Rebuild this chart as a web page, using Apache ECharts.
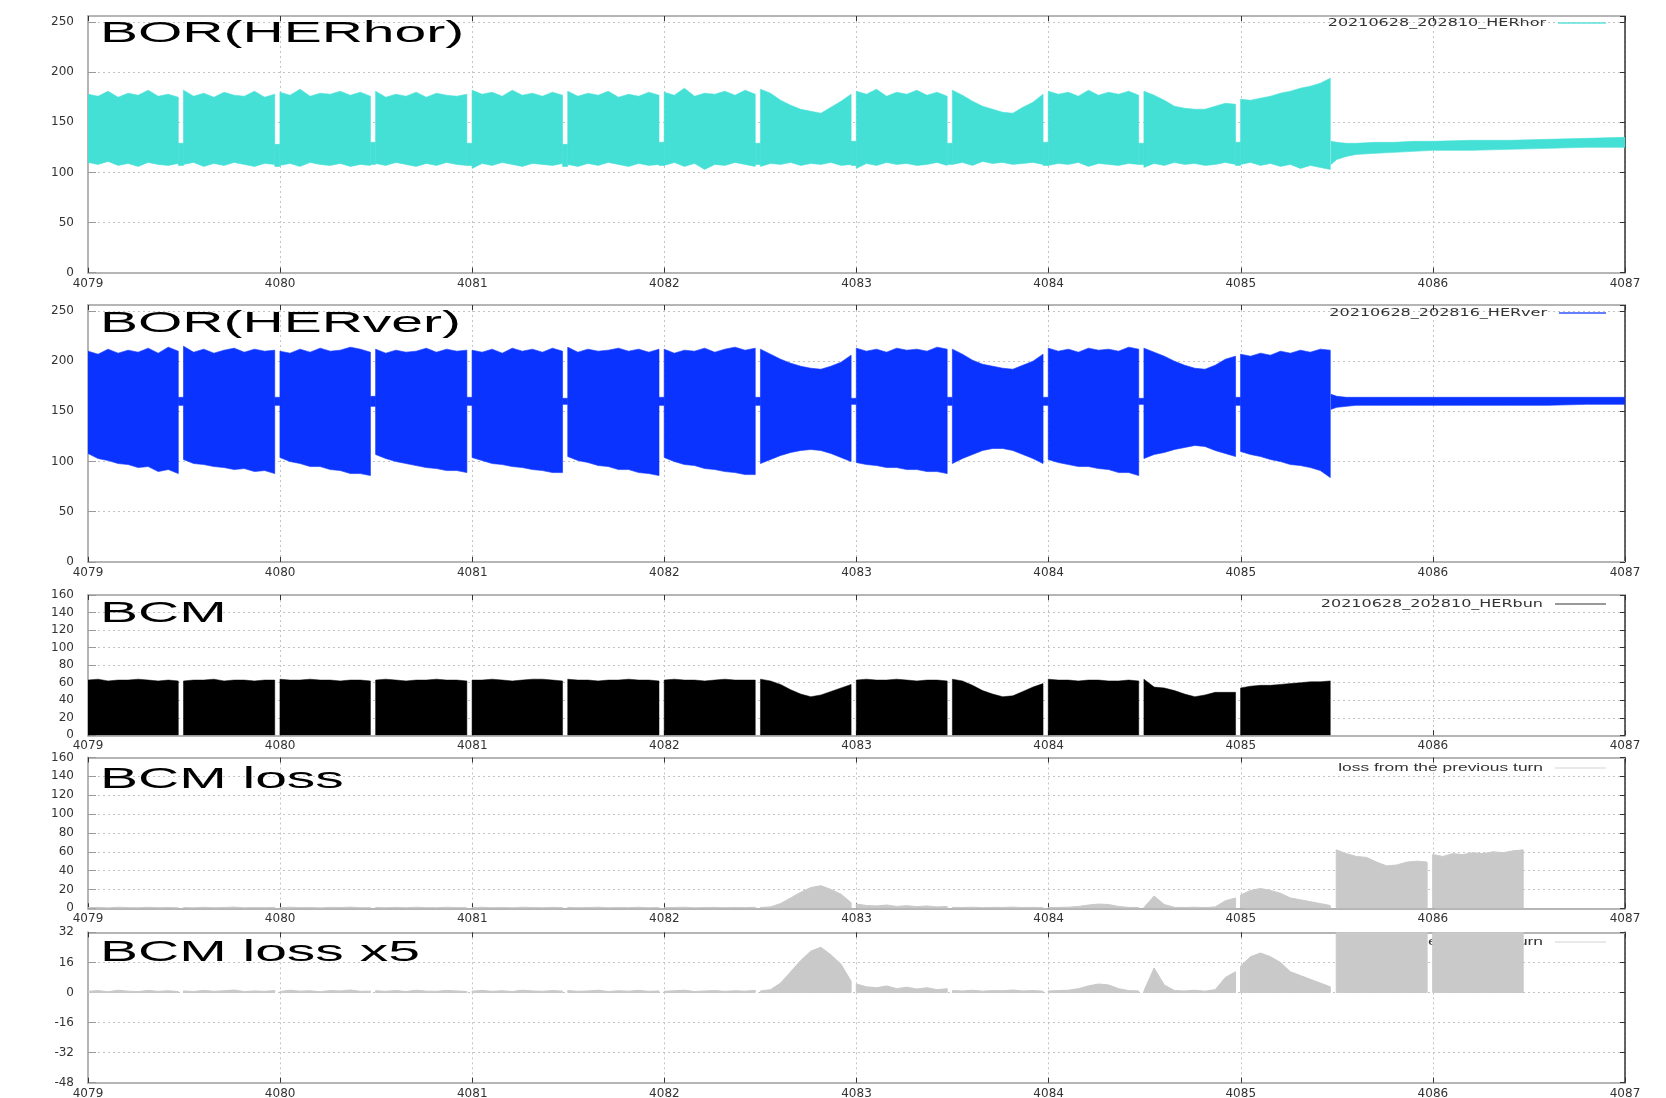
<!DOCTYPE html>
<html>
<head>
<meta charset="utf-8">
<script src="https://cdn.jsdelivr.net/npm/echarts@6/dist/echarts.min.js"></script>
<style>
html,body{margin:0;padding:0;background:#fff;}
#c{width:1666px;height:1098px;}
</style>
</head>
<body>
<div id="c"></div>
<script>
// ---------------- DATA ----------------
const xTickLabels = [4079, 4080, 4081, 4082, 4083, 4084, 4085, 4086, 4087];
const yTickLabels = [
  [0, 50, 100, 150, 200, 250],
  [0, 50, 100, 150, 200, 250],
  [0, 20, 40, 60, 80, 100, 120, 140, 160],
  [0, 20, 40, 60, 80, 100, 120, 140, 160],
  [-48, -32, -16, 0, 16, 32]
];
const yAxisTop = [256, 256, 160, 160, 32];

const panelTitles = ['BOR(HERhor)', 'BOR(HERver)', 'BCM', 'BCM loss', 'BCM loss x5'];
const legendNames = ['20210628_202810_HERhor', '20210628_202816_HERver', '20210628_202810_HERbun',
                     'loss from the previous turn', 'loss from the previous turn'];

// bunch-train start / end (turn number)
const trainStart = [4079.000, 4079.497, 4079.999, 4080.497, 4080.999, 4081.497, 4081.999, 4082.500,
                    4082.999, 4083.499, 4083.998, 4084.496, 4084.999, 4085.497, 4085.999];
const trainEnd   = [4079.470, 4079.972, 4080.470, 4080.972, 4081.470, 4081.972, 4082.473, 4082.972,
                    4083.472, 4083.971, 4084.469, 4084.973, 4085.466, 4085.970, 4086.470];

// BOR(HERhor): upper / lower envelope, 10 samples per train
const horHigh = [
  [178, 176, 181, 175, 179, 177, 182, 176, 178, 175],
  [182, 176, 179, 175, 180, 177, 176, 181, 175, 178],
  [180, 177, 183, 176, 179, 178, 181, 177, 180, 176],
  [181, 175, 178, 176, 180, 175, 179, 177, 176, 178],
  [182, 178, 180, 176, 182, 177, 179, 176, 180, 177],
  [181, 176, 179, 177, 181, 175, 178, 176, 180, 177],
  [180, 177, 184, 176, 179, 178, 181, 177, 182, 178],
  [183, 179, 172, 167, 163, 161, 159, 165, 171, 178],
  [181, 178, 183, 176, 180, 178, 182, 177, 180, 176],
  [182, 177, 171, 166, 163, 160, 159, 165, 170, 178],
  [181, 178, 180, 176, 182, 177, 180, 178, 181, 177],
  [181, 177, 172, 166, 164, 163, 163, 166, 169, 168],
  [173, 172, 174, 176, 179, 181, 184, 186, 189, 194]
];
const horLow = [
  [110, 108, 111, 107, 109, 106, 110, 108, 107, 109],
  [108, 110, 106, 109, 107, 110, 108, 106, 109, 108],
  [107, 109, 106, 110, 108, 107, 109, 106, 108, 107],
  [109, 107, 110, 108, 106, 109, 107, 110, 108, 107],
  [104, 109, 107, 110, 108, 106, 109, 108, 107, 109],
  [108, 106, 109, 107, 110, 108, 106, 109, 107, 108],
  [107, 110, 106, 109, 103, 108, 107, 110, 108, 106],
  [106, 109, 108, 110, 107, 109, 108, 110, 107, 108],
  [104, 109, 107, 110, 108, 109, 107, 108, 110, 107],
  [108, 110, 107, 111, 109, 110, 108, 109, 110, 108],
  [107, 109, 108, 110, 106, 109, 108, 107, 109, 108],
  [105, 109, 107, 110, 108, 109, 107, 108, 110, 108],
  [108, 110, 107, 109, 106, 108, 104, 107, 105, 103]
];
const horGapHigh = [129, 128, 130, 129, 128, 130, 129, 131, 129, 130, 129, 130];
const horGapLow  = [107, 106, 108, 107, 106, 107, 108, 107, 108, 107, 108, 107];

// after the abort: narrow band
const tailX = [4085.47, 4085.50, 4085.55, 4085.60, 4085.70, 4085.80, 4085.90, 4086.00, 4086.20, 4086.40, 4086.60, 4086.80, 4087.00];
const horTailHigh = [131, 130, 129, 129, 130, 130, 131, 131, 132, 132, 133, 134, 135];
const horTailLow  = [108, 113, 116, 118, 119, 120, 121, 122, 122, 123, 124, 125, 125];

// BOR(HERver)
const verHigh = [
  [210, 207, 212, 208, 211, 209, 213, 208, 214, 210],
  [215, 209, 212, 208, 211, 213, 209, 212, 210, 211],
  [210, 208, 212, 209, 213, 210, 211, 214, 212, 209],
  [212, 208, 211, 209, 210, 213, 209, 212, 210, 211],
  [211, 209, 212, 208, 213, 210, 212, 209, 213, 210],
  [214, 209, 212, 210, 211, 213, 210, 212, 209, 212],
  [212, 208, 211, 210, 213, 209, 212, 214, 211, 213],
  [212, 207, 202, 198, 195, 193, 192, 195, 199, 206],
  [213, 210, 212, 209, 213, 211, 212, 210, 214, 212],
  [212, 207, 201, 197, 195, 193, 192, 196, 200, 207],
  [213, 210, 212, 209, 213, 211, 212, 210, 214, 212],
  [213, 209, 205, 200, 196, 193, 192, 196, 202, 205],
  [207, 205, 208, 206, 210, 208, 211, 209, 212, 211]
];
const verLow = [
  [108, 103, 101, 98, 97, 94, 95, 90, 92, 88],
  [102, 98, 97, 95, 94, 92, 93, 90, 91, 88],
  [104, 100, 98, 95, 95, 92, 91, 88, 88, 86],
  [107, 103, 100, 98, 96, 94, 93, 91, 91, 89],
  [104, 101, 98, 97, 95, 94, 92, 91, 89, 89],
  [105, 101, 99, 96, 95, 92, 92, 89, 88, 86],
  [104, 100, 97, 96, 93, 92, 90, 89, 87, 87],
  [98, 102, 106, 109, 111, 112, 111, 108, 104, 100],
  [99, 97, 96, 94, 94, 92, 92, 90, 90, 88],
  [98, 103, 107, 111, 113, 113, 111, 107, 103, 98],
  [102, 99, 97, 95, 95, 93, 92, 89, 89, 86],
  [103, 107, 109, 112, 114, 116, 115, 111, 108, 105],
  [110, 107, 105, 102, 100, 97, 96, 94, 91, 84]
];
const verGapHigh = [164, 164, 165, 164, 163, 164, 164, 163, 164, 164, 163, 164];
const verGapLow  = [156, 156, 155, 156, 157, 156, 156, 157, 156, 156, 157, 156];
const verTailHigh = [167, 165, 164, 164, 164, 164, 164, 164, 164, 164, 164, 164, 164];
const verTailLow  = [152, 154, 155, 156, 156, 156, 156, 156, 156, 156, 156, 157, 157];

// BCM (bunch current)
const bcmValues = [
  [63, 64, 62, 63, 63, 64, 63, 62, 63, 62],
  [62, 63, 63, 64, 62, 63, 63, 62, 63, 63],
  [64, 63, 63, 64, 63, 63, 62, 63, 63, 62],
  [63, 64, 63, 62, 63, 63, 64, 63, 63, 62],
  [63, 63, 64, 63, 62, 63, 64, 64, 63, 62],
  [64, 63, 63, 62, 63, 63, 64, 63, 63, 62],
  [63, 64, 63, 63, 62, 63, 64, 63, 63, 63],
  [64, 62, 58, 52, 47, 44, 46, 50, 54, 58],
  [63, 64, 63, 63, 64, 63, 62, 63, 63, 62],
  [64, 62, 57, 51, 47, 44, 45, 50, 55, 59],
  [64, 63, 63, 62, 63, 63, 62, 62, 63, 62],
  [64, 55, 54, 51, 47, 44, 46, 49, 49, 49],
  [54, 56, 57, 57, 58, 59, 60, 61, 61, 62]
];

// BCM loss from the previous turn (same data in both loss panels)
const lossValues = [
  [0.6, 1.0, 0.4, 1.2, 0.7, 0.5, 1.1, 0.6, 0.9, 0.5],
  [0.8, 0.5, 1.1, 0.6, 0.9, 1.3, 0.5, 0.8, 0.6, 1.0],
  [0.5, 1.2, 0.7, 0.9, 0.4, 1.0, 0.8, 1.3, 0.6, 0.7],
  [0.9, 0.6, 1.0, 0.5, 1.2, 0.7, 0.6, 1.1, 0.8, 0.5],
  [0.7, 1.1, 0.6, 0.9, 0.5, 1.2, 0.8, 0.6, 1.0, 0.7],
  [1.0, 0.6, 0.8, 1.2, 0.5, 0.9, 0.7, 1.1, 0.6, 0.8],
  [0.6, 0.9, 1.2, 0.5, 0.8, 1.0, 0.6, 0.9, 0.7, 1.1],
  [0.8, 1.5, 5, 11, 17, 22, 24, 20, 15, 6],
  [4.5, 3, 2.5, 3.5, 2, 2.8, 1.8, 2.5, 1.5, 2],
  [1.0, 0.8, 1.2, 0.7, 1.0, 0.9, 1.3, 0.8, 1.0, 0.7],
  [0.8, 1.0, 1.2, 2.0, 3.5, 4.5, 4.0, 2.0, 1.0, 0.8],
  [0.8, 13, 4, 1.0, 0.8, 1.2, 0.7, 1.5, 8, 11],
  [14, 19, 21, 19, 16, 11, 9, 7, 5, 3],
  [62, 58, 55, 54, 49, 45, 46, 49, 50, 49],
  [57, 55, 58, 57, 59, 58, 60, 59, 61, 62]
];

// ---------------- LAYOUT / STYLE ----------------
const layout = [
  {top: 16, height: 256.7},
  {top: 305, height: 256.9},
  {top: 595, height: 140.3},
  {top: 757.5, height: 150.8},
  {top: 932.3, height: 150.4}
];
const titleY = [34, 324, 614, 780, 953];
const legendY = [23, 313, 604, 768, 942];
const legendRight = [1546, 1547, 1543, 1543, 1543];
const legendLineColor = ['#5fe3d8', '#2f55ff', '#777777', '#e2e2e2', '#e2e2e2'];
const COL_HOR = '#44e0d6', COL_VER = '#0a33ff', COL_BCM = '#000000', COL_LOSS = '#c9c9c9';

const chart = echarts.init(document.getElementById('c'), null, {renderer: 'canvas', width: 1666, height: 1098});

function sx(i, j) { return trainStart[i] + j * (trainEnd[i] - trainStart[i]) / 9; }
function clipPts(pts, params) {
  const cs = params.coordSys;
  return echarts.graphic.clipPointsByRect(pts, {x: cs.x, y: cs.y, width: cs.width, height: cs.height});
}

function bandRender(high, low, gapHigh, gapLow, tailHigh, tailLow, color) {
  return function (params, api) {
    const kind = api.value(2), i = api.value(3);
    let top = [], bot = [];
    if (kind === 0) {
      for (let j = 0; j < high[i].length; j++) {
        const x = sx(i, j);
        top.push(api.coord([x, high[i][j]]));
        bot.push(api.coord([x, low[i][j]]));
      }
    } else if (kind === 1) {
      const a = trainEnd[i], b = trainStart[i + 1];
      top = [api.coord([a, gapHigh[i]]), api.coord([b, gapHigh[i]])];
      bot = [api.coord([a, gapLow[i]]), api.coord([b, gapLow[i]])];
    } else {
      for (let j = 0; j < tailX.length; j++) {
        top.push(api.coord([tailX[j], tailHigh[j]]));
        bot.push(api.coord([tailX[j], tailLow[j]]));
      }
    }
    const pts = clipPts(top.concat(bot.reverse()), params);
    return {type: 'polygon', shape: {points: pts}, style: {fill: color, stroke: color, lineWidth: 0.6}};
  };
}
function bandData(n) {
  const d = [];
  for (let i = 0; i < n; i++) d.push([trainStart[i], 0, 0, i]);
  for (let i = 0; i < n - 1; i++) d.push([trainEnd[i], 0, 1, i]);
  d.push([tailX[0], 0, 2, 0]);
  return d;
}
function fillRender(values, color, lw) {
  return function (params, api) {
    const i = api.value(2);
    const pts = [api.coord([trainStart[i], 0])];
    for (let j = 0; j < values[i].length; j++) pts.push(api.coord([sx(i, j), values[i][j]]));
    pts.push(api.coord([trainEnd[i], 0]));
    return {type: 'polygon', shape: {points: clipPts(pts, params)},
            style: {fill: color, stroke: color, lineWidth: lw}};
  };
}
function fillData(values) {
  return values.map((v, i) => [trainStart[i], 0, i]);
}

const grids = [], xAxes = [], yAxes = [];
const labelFont = {color: '#333', fontFamily: 'DejaVu Sans', fontSize: 12};
const dotted = {show: true, lineStyle: {color: '#c4c4c4', type: [2, 3], width: 1}};
layout.forEach((l, p) => {
  grids.push({left: 88, right: 41, top: l.top, height: l.height, containLabel: false, outerBoundsMode: 'none', show: false});
  xAxes.push({
    gridIndex: p, type: 'value', position: 'bottom',
    min: xTickLabels[0], max: xTickLabels[xTickLabels.length - 1], interval: xTickLabels[1] - xTickLabels[0],
    axisLine: {show: true, onZero: false, lineStyle: {color: '#b5b5b5', width: 2}},
    axisTick: {show: true, inside: true, length: 5, lineStyle: {color: '#333'}},
    axisLabel: Object.assign({margin: 5, showMinLabel: true, showMaxLabel: true, formatter: v => String(v)}, labelFont),
    splitLine: dotted
  });
  xAxes.push({
    gridIndex: p, type: 'value', position: 'top',
    min: xTickLabels[0], max: xTickLabels[xTickLabels.length - 1], interval: xTickLabels[1] - xTickLabels[0],
    axisLine: {show: true, onZero: false, lineStyle: {color: '#b5b5b5', width: 2}},
    axisTick: {show: true, inside: true, length: 5, lineStyle: {color: '#333'}},
    axisLabel: {show: false}, splitLine: {show: false}
  });
  const yt = yTickLabels[p];
  const aligned = yAxisTop[p] === yt[yt.length - 1];
  yAxes.push({
    gridIndex: p, type: 'value', position: 'left',
    min: yt[0], max: yAxisTop[p], interval: yt[1] - yt[0],
    axisLine: {show: true, onZero: false, lineStyle: {color: '#b5b5b5', width: 2}},
    axisTick: {show: true, inside: true, length: 8, lineStyle: {color: '#999'}},
    axisLabel: Object.assign({margin: 14, showMinLabel: true, showMaxLabel: aligned}, labelFont),
    splitLine: dotted
  });
  yAxes.push({
    gridIndex: p, type: 'value', position: 'right',
    min: yt[0], max: yAxisTop[p], interval: yt[1] - yt[0],
    axisLine: {show: true, onZero: false, lineStyle: {color: '#333', width: 1.5}},
    axisTick: {show: true, inside: true, length: 5, lineStyle: {color: '#333'}},
    axisLabel: {show: false}, splitLine: {show: false}
  });
});

const series = [
  {name: legendNames[0], type: 'custom', coordinateSystem: 'cartesian2d', xAxisIndex: 0, yAxisIndex: 0,
   clip: true, silent: true, animation: false, encode: {x: 0, y: 1},
   renderItem: bandRender(horHigh, horLow, horGapHigh, horGapLow, horTailHigh, horTailLow, COL_HOR),
   data: bandData(horHigh.length)},
  {name: legendNames[1], type: 'custom', coordinateSystem: 'cartesian2d', xAxisIndex: 2, yAxisIndex: 2,
   clip: true, silent: true, animation: false, encode: {x: 0, y: 1},
   renderItem: bandRender(verHigh, verLow, verGapHigh, verGapLow, verTailHigh, verTailLow, COL_VER),
   data: bandData(verHigh.length)},
  {name: legendNames[2], type: 'custom', coordinateSystem: 'cartesian2d', xAxisIndex: 4, yAxisIndex: 4,
   clip: true, silent: true, animation: false, encode: {x: 0, y: 1},
   renderItem: fillRender(bcmValues, COL_BCM, 0.5), data: fillData(bcmValues)},
  {name: legendNames[3], type: 'custom', coordinateSystem: 'cartesian2d', xAxisIndex: 6, yAxisIndex: 6,
   clip: true, silent: true, animation: false, encode: {x: 0, y: 1},
   renderItem: fillRender(lossValues, COL_LOSS, 1), data: fillData(lossValues)},
  {name: legendNames[4], type: 'custom', coordinateSystem: 'cartesian2d', xAxisIndex: 8, yAxisIndex: 8,
   clip: true, silent: true, animation: false, encode: {x: 0, y: 1},
   renderItem: fillRender(lossValues, COL_LOSS, 1), data: fillData(lossValues)}
];

const graphics = [];
panelTitles.forEach((t, p) => {
  graphics.push({type: 'text', x: 100, y: titleY[p], scaleX: 1.9, z: 100,
    style: {text: t, font: '30px "Liberation Sans", Arial, sans-serif', fill: '#000', align: 'left', verticalAlign: 'middle'}});
});
legendNames.forEach((t, p) => {
  const isLoss = p >= 3;
  graphics.push({type: 'text', x: legendRight[p], y: legendY[p], scaleX: isLoss ? 1.58 : 1.6, z: 1,
    style: {text: t, font: isLoss ? '11px "Liberation Sans", Arial, sans-serif' : '10px "DejaVu Sans", sans-serif',
            fill: '#333', align: 'right', verticalAlign: 'middle'}});
  graphics.push({type: 'line', z: 1, shape: {x1: legendRight[p] + 12, y1: legendY[p], x2: 1606, y2: legendY[p]},
    style: {stroke: legendLineColor[p], lineWidth: 1.3}});
});

chart.setOption({
  backgroundColor: '#ffffff',
  animation: false,
  grid: grids,
  xAxis: xAxes,
  yAxis: yAxes,
  series: series,
  graphic: {elements: graphics}
});
</script>
</body>
</html>
